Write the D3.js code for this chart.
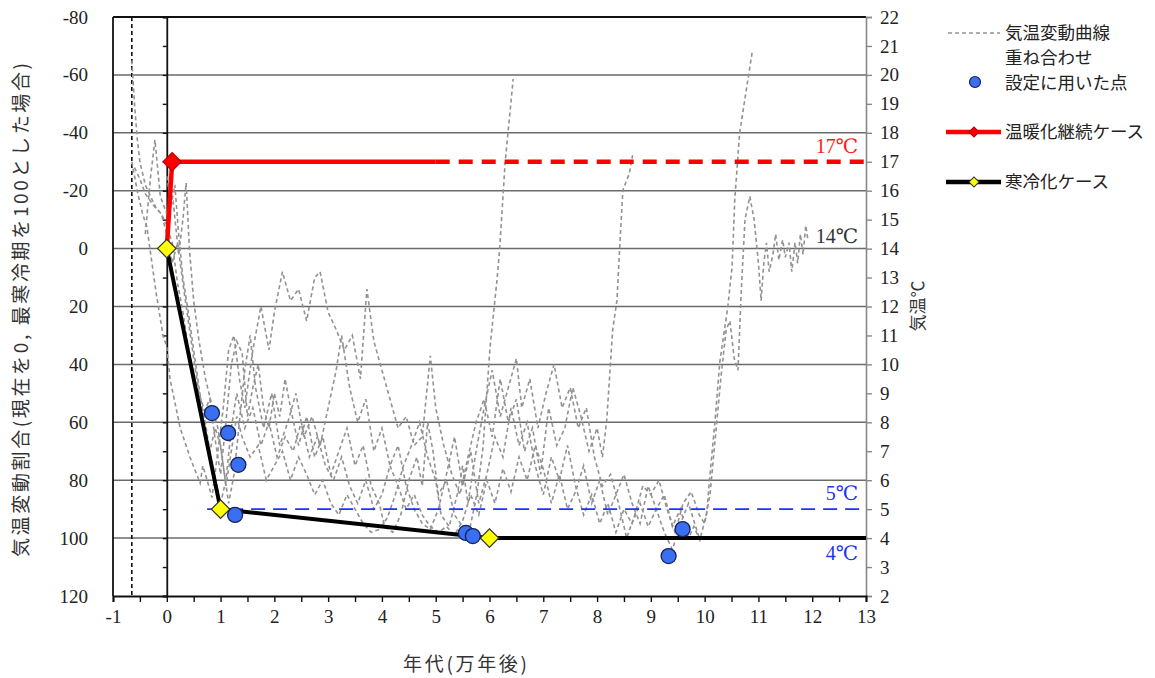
<!DOCTYPE html>
<html><head><meta charset="utf-8">
<script src="https://cdn.jsdelivr.net/npm/d3@7/dist/d3.min.js"></script>
<style>
body{margin:0;background:#fff;}
svg text{fill:#222;}
.num{font-family:"Liberation Serif","DejaVu Serif",serif;font-size:18px;}
.jp{font-family:"Noto Sans CJK JP","Noto Sans",sans-serif;}
</style></head>
<body><svg id="c" width="1155" height="678"></svg>
<script>
// ---- data ----
const xTickValues = d3.range(-1, 13.01, 0.5);
const xTickLabels = ["-1","0","1","2","3","4","5","6","7","8","9","10","11","12","13"];
const leftTickLabels = [-80,-60,-40,-20,0,20,40,60,80,100,120];
const rightTickLabels = d3.range(2, 23, 1);
const gridValues = [-60,-40,-20,0,20,40,60,80,100];

const curve1 = [[-0.65,-65],[-0.6,-50],[-0.55,-38],[-0.5,-30],[-0.4,-22],[-0.3,-18],[-0.2,-14],[-0.1,-12],[0,-5],[0.1,5],[0.2,-2],[0.3,12],[0.4,25],[0.5,38],[0.6,50],[0.7,56],[0.8,52],[0.9,66],[1.0,78],[1.1,60],[1.2,40],[1.3,32],[1.4,36],[1.5,58],[1.6,48],[1.7,40],[1.8,55],[1.9,62],[2.0,50],[2.1,58],[2.2,45],[2.3,55],[2.45,68],[2.6,58],[2.75,72],[2.9,65],[3.05,78],[3.2,70],[3.35,62],[3.5,75],[3.65,68],[3.8,82],[3.95,88],[4.05,96],[4.2,98],[4.35,92],[4.5,80],[4.65,72],[4.75,82],[4.85,60],[4.95,70],[5.05,85],[5.2,80],[5.35,92],[5.5,96],[5.64,96.2],[5.77,84.4],[5.88,68.5],[6.01,34],[6.14,10.8],[6.19,-0.2],[6.29,-29.6],[6.44,-58.6]];
const curve2 = [[-0.65,-30],[-0.55,-20],[-0.45,-12],[-0.37,-7.5],[-0.2,15],[-0.07,30],[0,34],[0.06,45],[0.25,62],[0.43,72],[0.62,81],[0.67,75],[0.75,80],[0.84,86],[0.95,70],[1.05,55],[1.15,35],[1.25,30],[1.35,45],[1.45,55],[1.6,35],[1.75,20],[1.9,35],[2.0,22],[2.15,8],[2.3,18],[2.45,14],[2.6,25],[2.75,10],[2.85,8],[3.0,22],[3.15,28],[3.3,35],[3.45,30],[3.6,45],[3.72,14],[3.85,32],[4.0,42],[4.15,52],[4.3,62],[4.45,58],[4.6,68],[4.75,65],[4.9,37],[5.0,55],[5.15,68],[5.3,78],[5.45,85],[5.6,72],[5.75,60],[5.9,52],[6.05,65],[6.2,45],[6.35,60],[6.5,52],[6.65,70],[6.8,62],[6.95,78],[7.1,55],[7.25,68],[7.4,62],[7.55,48],[7.7,58],[7.85,70],[8.0,62],[8.1,72],[8.18,59.2],[8.29,28.1],[8.37,17.8],[8.42,-0.2],[8.48,-20.2],[8.6,-26],[8.66,-32.3]];
const curve3 = [[-0.4,-5],[-0.3,-25],[-0.22,-37.6],[-0.12,-18],[0,-12],[0.12,-16],[0.22,2],[0.3,-10],[0.36,-22.7],[0.42,0],[0.5,18],[0.6,32],[0.72,45],[0.85,55],[0.95,62],[1.05,75],[1.15,88],[1.25,78],[1.35,60],[1.45,42],[1.55,30],[1.65,48],[1.8,62],[1.95,50],[2.1,68],[2.25,60],[2.4,50],[2.55,65],[2.7,58],[2.85,68],[3.0,55],[3.15,42],[3.25,30],[3.4,48],[3.55,60],[3.7,52],[3.85,70],[4.0,62],[4.15,75],[4.3,68],[4.45,82],[4.6,90],[4.75,95],[4.9,97],[5.05,90],[5.2,78],[5.35,65],[5.5,82],[5.65,70],[5.8,88],[5.95,78],[6.1,65],[6.25,72],[6.4,55],[6.55,68],[6.7,60],[6.85,75],[7.0,85],[7.15,72],[7.3,80],[7.45,68],[7.6,82],[7.75,92],[7.9,85],[8.05,95],[8.2,88],[8.35,98],[8.5,90],[8.65,95],[8.8,88],[8.95,96],[9.1,90],[9.25,85],[9.4,96],[9.55,90],[9.7,100],[9.8,96],[9.91,100.7],[10.04,91.3],[10.09,79.9],[10.19,60.2],[10.28,39.5],[10.43,20.2],[10.51,6.4],[10.56,-16.8],[10.65,-39.9],[10.89,-68.6]];
const curve4 = [[-0.6,-28],[-0.5,-24],[-0.4,-19],[-0.25,-15],[-0.1,-12],[0,-8],[0.1,-2],[0.2,12],[0.3,22],[0.4,34],[0.55,48],[0.7,58],[0.8,70],[0.9,62],[1.0,68],[1.1,82],[1.2,70],[1.3,58],[1.4,65],[1.55,72],[1.7,68],[1.85,80],[2.0,75],[2.15,70],[2.3,80],[2.45,72],[2.6,78],[2.75,85],[2.9,80],[3.05,88],[3.2,92],[3.35,85],[3.5,90],[3.65,95],[3.8,98],[3.95,97],[4.1,93],[4.25,85],[4.4,75],[4.55,68],[4.7,60],[4.85,72],[5.0,80],[5.1,92],[5.25,96],[5.4,85],[5.5,75],[5.6,88],[5.75,70],[5.9,55],[6.05,42],[6.2,58],[6.35,48],[6.5,38],[6.6,55],[6.75,45],[6.9,62],[7.05,50],[7.2,40],[7.35,55],[7.5,48],[7.65,62],[7.8,55],[7.95,72],[8.1,82],[8.25,78],[8.4,88],[8.55,100],[8.7,92],[8.85,82],[9.0,85],[9.15,80],[9.3,90],[9.45,98],[9.6,88],[9.75,84],[9.9,92],[10.0,95],[10.1,85],[10.2,65],[10.3,45],[10.4,28],[10.47,25],[10.55,38],[10.62,42],[10.68,15],[10.75,-10],[10.84,-18],[10.92,-10],[11.0,5],[11.05,18],[11.1,5],[11.15,-2],[11.2,8],[11.27,2],[11.32,-5],[11.38,4],[11.45,-3],[11.5,3],[11.57,-2],[11.62,8],[11.68,-2],[11.73,5],[11.78,-5],[11.83,2],[11.88,-8],[11.92,-3]];
const curve5 = [[0,-25],[0.08,-15],[0.15,-22],[0.22,-5],[0.3,10],[0.4,22],[0.5,35],[0.6,48],[0.7,60],[0.8,72],[0.9,80],[1.0,88],[1.1,80],[1.2,62],[1.3,50],[1.45,62],[1.6,55],[1.75,68],[1.9,60],[2.05,72],[2.2,65],[2.35,70],[2.5,60],[2.65,72],[2.8,65],[2.95,75],[3.1,80],[3.25,72],[3.4,82],[3.55,88],[3.7,80],[3.85,90],[4.0,85],[4.15,75],[4.3,82],[4.45,90],[4.6,85],[4.75,92],[4.9,96],[5.05,98],[5.2,96],[5.35,99],[5.5,94],[5.65,85],[5.8,92],[5.95,80],[6.1,88],[6.25,76],[6.4,84],[6.55,72],[6.7,80],[6.85,68],[7.0,76],[7.15,88],[7.3,78],[7.45,90],[7.6,84],[7.75,75],[7.9,88],[8.05,80],[8.2,92],[8.35,85],[8.5,78],[8.65,88],[8.8,95],[8.95,82],[9.1,90],[9.25,98],[9.4,104],[9.55,95],[9.7,88],[9.8,94],[9.9,100]];
const grayCurves = [curve1, curve2, curve3, curve4, curve5];

const warmSolid = [[0,0],[0.1,-30],[5,-30]];
const warmDashed = [[5,-30],[13,-30]];
const warmMarker = [[0.1,-30]];
const coolLine = [[0,0],[1.0,90],[6,100],[13,100]];
const coolMarkers = [[0,0],[1.0,90],[6,100]];
const line5C = [[0.75,90],[13,90]];
const usedPoints = [[0.84,56.8],[1.14,63.7],[1.33,74.7],[1.27,92],[5.56,98.2],[5.69,99.3],[9.33,106.2],[9.59,96.9]];
const refLabels = [{t:"17℃",v:-30,c:"#ff1a1a",dy:-9},{t:"14℃",v:0,c:"#333",dy:-6},{t:"5℃",v:90,c:"#2233ee",dy:-9},{t:"4℃",v:100,c:"#2233ee",dy:22}];

// ---- chart ----
const svg = d3.select("#c");
const x = d3.scaleLinear().domain([-1,13]).range([113,866]);
const y = d3.scaleLinear().domain([-80,120]).range([17,596]);
const yR = d3.scaleLinear().domain([22,2]).range([17,596]);
const line = d3.line().x(d=>x(d[0])).y(d=>y(d[1]));

// gridlines
svg.append("g").selectAll("line").data(gridValues).join("line")
  .attr("x1",x(-1)).attr("x2",x(13)).attr("y1",d=>y(d)).attr("y2",d=>y(d))
  .attr("stroke","#6a6a6a").attr("stroke-width",1.5);
// top border
svg.append("line").attr("x1",x(-1)).attr("x2",x(13)).attr("y1",y(-80)).attr("y2",y(-80)).attr("stroke","#111").attr("stroke-width",2);
// left border
svg.append("line").attr("x1",x(-1)).attr("x2",x(-1)).attr("y1",y(-80)).attr("y2",y(120)).attr("stroke","#111").attr("stroke-width",1.8);
// dashed vertical
svg.append("line").attr("x1",x(-0.65)).attr("x2",x(-0.65)).attr("y1",y(-80)).attr("y2",y(120)).attr("stroke","#111").attr("stroke-width",1.6).attr("stroke-dasharray","4,3");

// left labels axis
const axL = svg.append("g").attr("transform",`translate(${x(-1)},0)`)
  .call(d3.axisLeft(y).tickValues(leftTickLabels).tickSize(0).tickPadding(25).tickFormat(d=>d));
axL.select(".domain").remove();
axL.selectAll("text").attr("class","num").style("font-size","19px").attr("fill","#222");
// axis at x=0 with ticks every 10
const ax0 = svg.append("g").attr("transform",`translate(${x(0)},0)`)
  .call(d3.axisLeft(y).tickValues(d3.range(-80,121,10)).tickSize(4).tickFormat(""));
ax0.select(".domain").attr("stroke","#111").attr("stroke-width",1.8);
ax0.selectAll(".tick line").attr("stroke","#111").attr("stroke-width",1.4);

// right axis
const axR = svg.append("g").attr("transform",`translate(${x(13)},0)`)
  .call(d3.axisRight(yR).tickValues(rightTickLabels).tickSize(6).tickPadding(8).tickFormat(d=>d));
axR.select(".domain").attr("stroke","#888").attr("stroke-width",1.6);
axR.selectAll(".tick line").attr("stroke","#888").attr("stroke-width",1.4);
axR.selectAll("text").attr("class","num").style("font-size","19px").attr("fill","#222");

// bottom axis
const axB = svg.append("g").attr("transform",`translate(0,${y(120)})`)
  .call(d3.axisBottom(x).tickValues(xTickValues).tickSize(6).tickPadding(8)
    .tickFormat(d=> Number.isInteger(d) ? xTickLabels[d+1] : ""));
axB.select(".domain").attr("stroke","#111").attr("stroke-width",2);
axB.selectAll(".tick line").attr("stroke","#111").attr("stroke-width",1.4);
axB.selectAll("text").attr("class","num").style("font-size","19px").attr("fill","#222");

// gray curves
svg.append("g").selectAll("path").data(grayCurves).join("path")
  .attr("d",line).attr("fill","none").attr("stroke","#929292").attr("stroke-width",1.6).attr("stroke-dasharray","4,3");

// 5C blue dashed
svg.append("path").attr("d",line(line5C)).attr("fill","none").attr("stroke","#2233ee").attr("stroke-width",1.8).attr("stroke-dasharray","14,8");
// cool case
svg.append("path").attr("d",line(coolLine)).attr("fill","none").attr("stroke","#000").attr("stroke-width",4).attr("stroke-linejoin","round");
// warm case
svg.append("path").attr("d",line(warmSolid)).attr("fill","none").attr("stroke","#ff0000").attr("stroke-width",4.5).attr("stroke-linejoin","round");
svg.append("path").attr("d",line(warmDashed)).attr("fill","none").attr("stroke","#ff0000").attr("stroke-width",4.5).attr("stroke-dasharray","14,9");

svg.append("g").selectAll("path").data(coolMarkers).join("path")
  .attr("d",d3.symbol().type(d3.symbolSquare).size(170))
  .attr("transform",d=>`translate(${x(d[0])},${y(d[1])}) rotate(45)`)
  .attr("fill","#ffff00").attr("stroke","#333").attr("stroke-width",1.2);
svg.append("g").selectAll("path").data(warmMarker).join("path")
  .attr("d",d3.symbol().type(d3.symbolSquare).size(170))
  .attr("transform",d=>`translate(${x(d[0])},${y(d[1])}) rotate(45)`)
  .attr("fill","#ff0000").attr("stroke","#c00000").attr("stroke-width",1.2);

// used points
svg.append("g").selectAll("circle").data(usedPoints).join("circle")
  .attr("cx",d=>x(d[0])).attr("cy",d=>y(d[1])).attr("r",7.5)
  .attr("fill","#3a6ff0").attr("stroke","#15215a").attr("stroke-width",1.3);

// reference labels
svg.append("g").selectAll("text").data(refLabels).join("text")
  .attr("class","num").style("font-size","20px")
  .attr("x",858).attr("y",d=>y(d.v)+d.dy).attr("text-anchor","end")
  .attr("fill",d=>d.c).style("fill",d=>d.c).text(d=>d.t);

// axis titles
svg.append("text").attr("class","jp").style("font-size","19px").style("fill","#333")
  .attr("x",403).attr("y",671).attr("textLength",124).attr("lengthAdjust","spacing").text("年代(万年後)");
svg.append("text").attr("class","jp").style("font-size","19px").style("fill","#333")
  .attr("transform","translate(28,557) rotate(-90)")
  .attr("textLength",494).attr("lengthAdjust","spacing")
  .text("気温変動割合(現在を0, 最寒冷期を100とした場合)");
svg.append("text").attr("class","jp").style("font-size","17px").style("fill","#333")
  .attr("transform","translate(924,306) rotate(-90)").attr("text-anchor","middle")
  .text("気温℃");

// legend
const lg = svg.append("g").attr("class","jp");
lg.append("line").attr("x1",948).attr("x2",1000).attr("y1",33).attr("y2",33).attr("stroke","#929292").attr("stroke-width",1.6).attr("stroke-dasharray","4,3");
lg.append("text").attr("x",1005).attr("y",39).style("font-size","17.5px").text("気温変動曲線");
lg.append("text").attr("x",1005).attr("y",64).style("font-size","17.5px").text("重ね合わせ");
lg.append("circle").attr("cx",975).attr("cy",82).attr("r",5.5).attr("fill","#3a6ff0").attr("stroke","#15215a").attr("stroke-width",1.2);
lg.append("text").attr("x",1005).attr("y",89).style("font-size","17.5px").text("設定に用いた点");
lg.append("line").attr("x1",946).attr("x2",1001).attr("y1",132).attr("y2",132).attr("stroke","#ff0000").attr("stroke-width",4.5);
lg.append("path").attr("d",d3.symbol().type(d3.symbolSquare).size(50)).attr("transform","translate(974,132) rotate(45)").attr("fill","#ff0000").attr("stroke","#b00000");
lg.append("text").attr("x",1005).attr("y",138).style("font-size","17.5px").text("温暖化継続ケース");
lg.append("line").attr("x1",946).attr("x2",1001).attr("y1",182).attr("y2",182).attr("stroke","#000").attr("stroke-width",4.5);
lg.append("path").attr("d",d3.symbol().type(d3.symbolSquare).size(50)).attr("transform","translate(974,182) rotate(45)").attr("fill","#ffff00").attr("stroke","#333");
lg.append("text").attr("x",1005).attr("y",188).style("font-size","17.5px").text("寒冷化ケース");
</script></body></html>
